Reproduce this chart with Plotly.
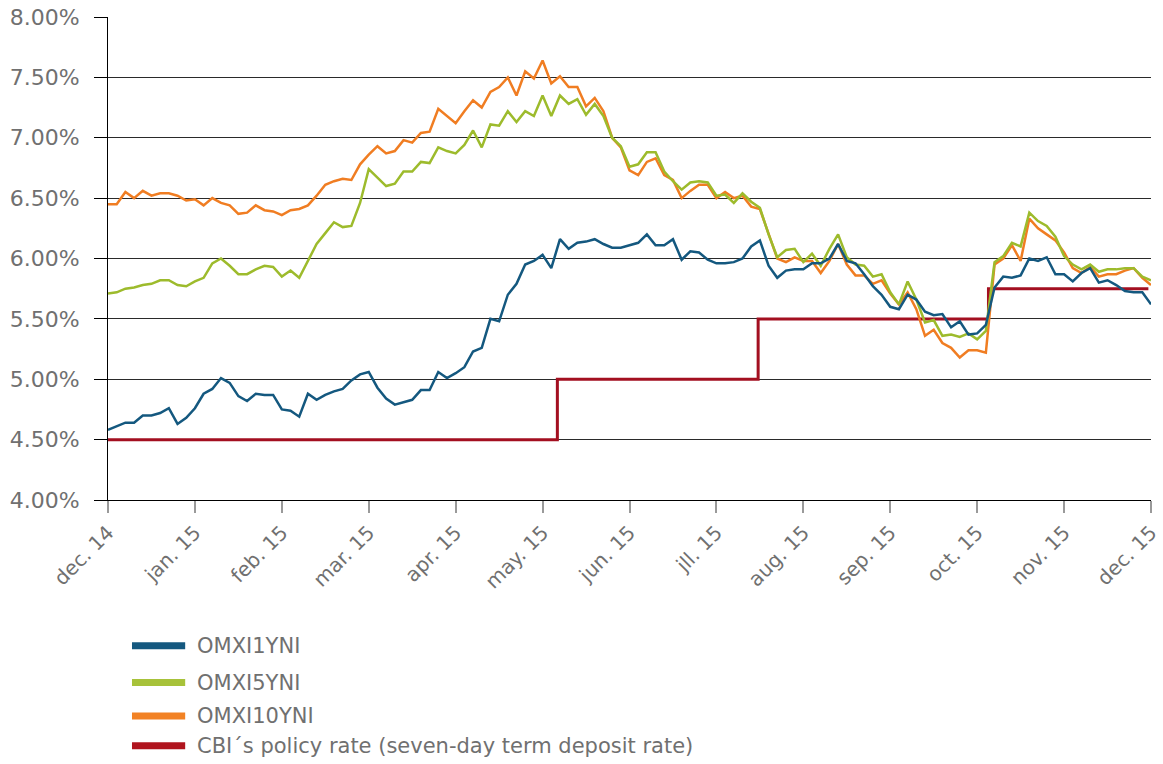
"""Icelandic nominal yield indices vs. CBI policy rate, Dec 2014 - Dec 2015."""

import numpy as np
import plotly.graph_objects as go

# x positions: months since dec. 14, sampled every 0.1 month
months = np.round(np.arange(121) / 10, 1)

month_labels = [
    "dec. 14", "jan. 15", "feb. 15", "mar. 15", "apr. 15", "may. 15", "jun. 15",
    "jll. 15", "aug. 15", "sep. 15", "oct. 15", "nov. 15", "dec. 15",
]

omxi10yni = [
    6.45, 6.45, 6.55, 6.50, 6.56, 6.52, 6.54, 6.54, 6.52, 6.48,
    6.49, 6.44, 6.50, 6.46, 6.44, 6.37, 6.38, 6.44, 6.40, 6.39,
    6.36, 6.40, 6.41, 6.44, 6.52, 6.61, 6.64, 6.66, 6.65, 6.78,
    6.86, 6.93, 6.87, 6.89, 6.98, 6.96, 7.04, 7.05, 7.24, 7.18,
    7.12, 7.22, 7.31, 7.25, 7.38, 7.42, 7.50, 7.35, 7.55, 7.49,
    7.64, 7.45, 7.51, 7.42, 7.42, 7.26, 7.33, 7.22, 7.00, 6.92,
    6.73, 6.69, 6.80, 6.83, 6.69, 6.65, 6.50, 6.56, 6.61, 6.61,
    6.50, 6.55, 6.50, 6.52, 6.43, 6.41, 6.20, 6.00, 5.97, 6.01,
    5.98, 5.98, 5.88, 5.98, 6.12, 5.95, 5.86, 5.86, 5.79, 5.82,
    5.71, 5.62, 5.72, 5.58, 5.36, 5.41, 5.30, 5.26, 5.18, 5.24,
    5.24, 5.22, 5.95, 6.00, 6.11, 5.98, 6.33, 6.25, 6.20, 6.15,
    6.05, 5.92, 5.88, 5.93, 5.85, 5.87, 5.87, 5.90, 5.92, 5.84, 5.78,
]

omxi5yni = [
    5.71, 5.72, 5.75, 5.76, 5.78, 5.79, 5.82, 5.82, 5.78, 5.77,
    5.81, 5.84, 5.96, 6.00, 5.94, 5.87, 5.87, 5.91, 5.94, 5.93,
    5.85, 5.90, 5.84, 5.98, 6.12, 6.21, 6.30, 6.26, 6.27, 6.46,
    6.74, 6.67, 6.60, 6.62, 6.72, 6.72, 6.80, 6.79, 6.92, 6.89,
    6.87, 6.94, 7.06, 6.92, 7.11, 7.10, 7.22, 7.13, 7.22, 7.18,
    7.35, 7.18, 7.35, 7.28, 7.32, 7.19, 7.28, 7.18, 7.00, 6.93,
    6.76, 6.78, 6.88, 6.88, 6.72, 6.64, 6.57, 6.63, 6.64, 6.63,
    6.52, 6.53, 6.46, 6.54, 6.47, 6.42, 6.20, 6.01, 6.07, 6.08,
    5.97, 6.04, 5.94, 6.08, 6.20, 6.01, 5.95, 5.94, 5.85, 5.87,
    5.72, 5.62, 5.81, 5.66, 5.47, 5.49, 5.36, 5.37, 5.35, 5.38,
    5.33, 5.40, 5.97, 6.02, 6.13, 6.10, 6.38, 6.31, 6.27, 6.18,
    6.02, 5.95, 5.91, 5.95, 5.89, 5.91, 5.91, 5.92, 5.92, 5.85, 5.82,
]

omxi1yni = [
    4.58, 4.61, 4.64, 4.64, 4.70, 4.70, 4.72, 4.76, 4.63, 4.68,
    4.76, 4.88, 4.92, 5.01, 4.97, 4.86, 4.82, 4.88, 4.87, 4.87,
    4.75, 4.74, 4.69, 4.88, 4.83, 4.87, 4.90, 4.92, 4.99, 5.04,
    5.06, 4.93, 4.84, 4.79, 4.81, 4.83, 4.91, 4.91, 5.06, 5.01,
    5.05, 5.10, 5.23, 5.26, 5.50, 5.48, 5.70, 5.79, 5.95, 5.98,
    6.03, 5.92, 6.16, 6.08, 6.13, 6.14, 6.16, 6.12, 6.09, 6.09,
    6.11, 6.13, 6.20, 6.11, 6.11, 6.16, 5.99, 6.06, 6.05, 5.99,
    5.96, 5.96, 5.97, 6.00, 6.10, 6.15, 5.94, 5.84, 5.90, 5.91,
    5.91, 5.96, 5.96, 6.00, 6.12, 5.98, 5.96, 5.87, 5.77, 5.70,
    5.60, 5.58, 5.70, 5.66, 5.56, 5.53, 5.54, 5.43, 5.48, 5.37,
    5.38, 5.45, 5.76, 5.85, 5.84, 5.86, 6.00, 5.98, 6.01, 5.87,
    5.87, 5.81, 5.88, 5.92, 5.80, 5.82, 5.78, 5.73, 5.72, 5.72, 5.62,
]

# policy rate change points (months since dec. 14) and levels
policy_x = [0, 5.17, 7.48, 10.13, 11.97]
policy_rate = [4.50, 5.00, 5.50, 5.75, 5.75]

BLUE = "#14587f"
GREEN = "#9dbb2c"
ORANGE = "#f07d22"
RED = "#a30f20"
TEXT = "#707070"
FONT = "DejaVu Sans"

fig = go.Figure()
fig.add_trace(go.Scatter(x=policy_x, y=policy_rate, mode="lines", line_shape="hv",
                         line={"color": RED, "width": 3},
                         name="CBI´s policy rate (seven-day term deposit rate)"))
fig.add_trace(go.Scatter(x=months, y=omxi10yni, mode="lines",
                         line={"color": ORANGE, "width": 2.5}, name="OMXI10YNI"))
fig.add_trace(go.Scatter(x=months, y=omxi5yni, mode="lines",
                         line={"color": GREEN, "width": 2.5}, name="OMXI5YNI"))
fig.add_trace(go.Scatter(x=months, y=omxi1yni, mode="lines",
                         line={"color": BLUE, "width": 2.5}, name="OMXI1YNI"))

# hand-drawn legend below the plot
legend_items = [
    ("OMXI1YNI", BLUE, -0.302),
    ("OMXI5YNI", "#a7c23a", -0.378),
    ("OMXI10YNI", "#f28224", -0.447),
    ("CBI´s policy rate (seven-day term deposit rate)", "#b0141e", -0.509),
]
for label, color, ypos in legend_items:
    fig.add_shape(type="line", xref="paper", yref="paper", x0=0.023, x1=0.074,
                  y0=ypos, y1=ypos, line={"color": color, "width": 7})
    fig.add_annotation(xref="paper", yref="paper", x=0.083, y=ypos, text=label,
                       showarrow=False, xanchor="left", yanchor="middle",
                       font={"family": FONT, "size": 21, "color": TEXT})

fig.update_xaxes(
    range=[0, 12], tickvals=list(range(13)), ticktext=month_labels,
    tickangle=-45, ticks="outside", ticklen=12, tickcolor="#9a9a9a", tickwidth=1.5,
    showgrid=False, zeroline=False, showline=True, linecolor="#000", linewidth=1,
    tickfont={"family": FONT, "size": 20, "color": TEXT}, automargin=False,
    ticklabeloverflow="allow",
)
fig.update_yaxes(
    range=[4, 8], dtick=0.5, tickformat=".2f", ticksuffix="%",
    ticks="outside", ticklen=13, tickcolor="#000", tickwidth=1,
    showgrid=True, gridcolor="#2a2a2a", gridwidth=1, zeroline=False,
    showline=True, linecolor="#000", linewidth=1, ticklabelstandoff=10,
    tickfont={"family": FONT, "size": 22, "color": TEXT}, automargin=False,
    ticklabeloverflow="allow",
)
fig.update_layout(
    width=1163, height=764,
    margin={"l": 108, "r": 12, "t": 16.5, "b": 263.5},
    plot_bgcolor="white", paper_bgcolor="white",
    showlegend=False,
)

# drop the page's default body margin so the figure sits at the window corner
fig.write_html("out.html", config={"displayModeBar": False},
               post_script="document.body.style.margin = '0';")
